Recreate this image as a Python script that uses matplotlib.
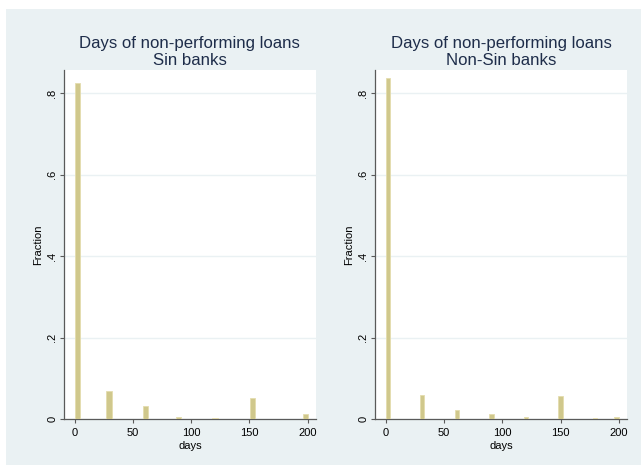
import matplotlib.pyplot as plt
from matplotlib.patches import Rectangle

plt.rcParams['font.family'] = ['Liberation Sans', 'DejaVu Sans']

# histogram bins (centre in days) and fraction of loans in each bin
sin_days = [2, 29.4, 61, 88.7, 120.4, 152.4, 198]
sin_frac = [0.825, 0.069, 0.033, 0.0065, 0.003, 0.053, 0.0135]

nonsin_days = [2, 31, 61, 90.6, 120.3, 149.9, 179.6, 198]
nonsin_frac = [0.838, 0.059, 0.0235, 0.013, 0.0057, 0.057, 0.0025, 0.0057]

titles = ['Days of non-performing loans\nSin banks',
          'Days of non-performing loans\nNon-Sin banks']
yticks = [0, 0.2, 0.4, 0.6, 0.8]
yticklabels = ['0', '.2', '.4', '.6', '.8']
xticks = [0, 50, 100, 150, 200]

bg = '#eaf1f3'
bar_color = '#d0c88c'
axis_color = '#5a5a5a'
title_color = '#1e2d4a'

fig = plt.figure(figsize=(6.41, 4.70), dpi=100, facecolor='white')
fig.patches.append(Rectangle((6 / 641, 5 / 470), 1 - 6 / 641, 456 / 470,
                             transform=fig.transFigure, facecolor=bg,
                             edgecolor='none', zorder=-10))

panels = [
    (0.0998, sin_days, sin_frac, 4.4, titles[0]),
    (0.585, nonsin_days, nonsin_frac, 4.0, titles[1]),
]

for x0, days, frac, width, title in panels:
    ax = fig.add_axes([x0, 0.1079, 0.393, 0.743])
    ax.set_facecolor('white')
    ax.bar(days, frac, width=width, color=bar_color, edgecolor='#e4dcae',
           linewidth=0.6, zorder=3)
    ax.set_xlim(-9.3, 207)
    ax.set_ylim(0, 0.857)

    ax.set_yticks(yticks)
    ax.set_yticklabels(yticklabels, rotation=90, va='center')
    ax.set_xticks(xticks)
    ax.grid(axis='y', color=bg, linewidth=1.0, zorder=1)
    ax.set_axisbelow(True)

    for side in ['top', 'right']:
        ax.spines[side].set_visible(False)
    for side in ['left', 'bottom']:
        ax.spines[side].set_color(axis_color)
        ax.spines[side].set_linewidth(0.9)
    ax.tick_params(axis='both', direction='out', length=3.2, width=0.8,
                   color=axis_color, labelsize=8, labelcolor='black')
    ax.tick_params(axis='y', pad=1.5)
    ax.tick_params(axis='x', pad=3)

    ax.set_ylabel('Fraction', fontsize=8, labelpad=3)
    ax.set_xlabel('days', fontsize=8, labelpad=2)
    ax.set_title(title, fontsize=12.1, color=title_color, pad=4,
                 linespacing=1.1)

fig.savefig('out.png', dpi=100, facecolor='white')
